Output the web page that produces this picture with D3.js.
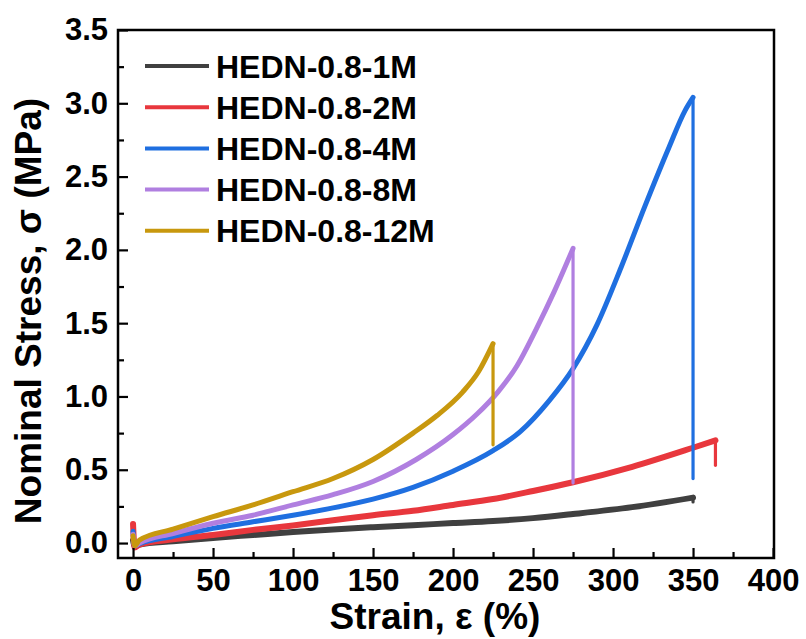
<!DOCTYPE html>
<html>
<head>
<meta charset="utf-8">
<script src="https://cdn.jsdelivr.net/npm/d3@7"></script>
<style>
  body { margin: 0; background: #fff; }
  text { font-family: "Liberation Sans", Arial, sans-serif; font-weight: bold; }
</style>
</head>
<body>
<svg id="chart" width="806" height="639"></svg>
<script>
// ---- data (strain %, stress MPa) ----
const seriesNames = ["HEDN-0.8-1M", "HEDN-0.8-2M", "HEDN-0.8-4M", "HEDN-0.8-8M", "HEDN-0.8-12M"];
const seriesColors = ["#404040", "#e8373d", "#1f6fe0", "#b07fe0", "#c8980e"];

const rise1M = [[0,0.02],[1,-0.02],[4,-0.01],[25,0.012],[50,0.035],[75,0.055],[100,0.075],[125,0.093],[150,0.108],[175,0.122],[200,0.136],[225,0.15],[250,0.17],[275,0.198],[312,0.245],[350,0.31]];
const drop1M = [[350,0.31],[350,0.28]];

const rise2M = [[0,0.13],[1,-0.03],[4,-0.01],[25,0.025],[50,0.055],[75,0.09],[100,0.12],[125,0.155],[150,0.19],[175,0.22],[200,0.26],[225,0.30],[250,0.355],[275,0.415],[312,0.52],[350,0.65],[364,0.70]];
const drop2M = [[364,0.70],[364,0.53]];

const rise4M = [[0,0.08],[1,-0.02],[4,-0.005],[25,0.045],[50,0.10],[75,0.145],[100,0.19],[125,0.24],[150,0.30],[175,0.38],[200,0.49],[225,0.63],[242,0.76],[260,0.97],[275,1.19],[290,1.49],[305,1.88],[320,2.30],[335,2.70],[345,2.95],[350,3.04]];
const drop4M = [[350,3.04],[350,0.44]];

const rise8M = [[0,0.06],[1,-0.02],[4,0.0],[25,0.065],[50,0.135],[75,0.19],[100,0.26],[125,0.33],[150,0.42],[177,0.57],[200,0.74],[215,0.88],[228,1.03],[240,1.21],[252,1.46],[263,1.71],[275,2.01]];
const drop8M = [[275,2.01],[275,0.41]];

const rise12M = [[0,0.05],[1,-0.02],[4,0.02],[25,0.095],[50,0.18],[75,0.26],[100,0.35],[125,0.44],[150,0.57],[175,0.75],[190,0.87],[206,1.03],[216,1.17],[225,1.36]];
const drop12M = [[225,1.36],[225,0.67]];

const rises = [rise1M, rise2M, rise4M, rise8M, rise12M];
const drops = [drop1M, drop2M, drop4M, drop8M, drop12M];

const xTicks = [0, 50, 100, 150, 200, 250, 300, 350, 400];
const xMinor = [25, 75, 125, 175, 225, 275, 325, 375];
const yTicks = [0.0, 0.5, 1.0, 1.5, 2.0, 2.5, 3.0, 3.5];
const yMinor = [0.25, 0.75, 1.25, 1.75, 2.25, 2.75, 3.25];

const xTitle = "Strain, ε (%)";
const yTitle = "Nominal Stress, σ (MPa)";

// ---- layout ----
const svg = d3.select("#chart");
const pL = 118, pR = 774, pT = 30, pB = 558;
const x = d3.scaleLinear().domain([-9.4, 400.6]).range([pL, pR]);
const y = d3.scaleLinear().domain([-0.102, 3.5]).range([pB, pT]);

svg.append("clipPath").attr("id", "clip")
  .append("rect").attr("x", pL).attr("y", pT).attr("width", pR-pL).attr("height", pB-pT);
const plot = svg.append("g");

const curveLine = d3.line().x(d => x(d[0])).y(d => y(d[1])).curve(d3.curveMonotoneX);
const straight = d3.line().x(d => x(d[0])).y(d => y(d[1]));

const widths = [6, 6, 5, 5, 5];
[0, 1, 2, 3, 4].forEach(i => {
  const g = plot.append("g").attr("clip-path", "url(#clip)");
  g.append("path").attr("d", curveLine(rises[i])).attr("fill", "none")
    .attr("stroke", seriesColors[i]).attr("stroke-width", widths[i]).attr("stroke-linejoin", "round").attr("stroke-linecap", "round");
  g.append("path").attr("d", straight(drops[i])).attr("fill", "none")
    .attr("stroke", seriesColors[i]).attr("stroke-width", 3.2).attr("stroke-linecap", "round");
});

// ---- axes (ticks inward) ----
const xAxis = svg.append("g").attr("transform", `translate(0,${pB})`)
  .call(d3.axisBottom(x).tickValues(xTicks).tickSizeInner(-10).tickSizeOuter(0).tickPadding(11).tickFormat(d3.format("d")));
const xAxisMinor = svg.append("g").attr("transform", `translate(0,${pB})`)
  .call(d3.axisBottom(x).tickValues(xMinor).tickSizeInner(-6).tickSizeOuter(0).tickFormat(""));
const yAxis = svg.append("g").attr("transform", `translate(${pL},0)`)
  .call(d3.axisLeft(y).tickValues(yTicks).tickSizeInner(-10).tickSizeOuter(0).tickPadding(10).tickFormat(d3.format(".1f")));
const yAxisMinor = svg.append("g").attr("transform", `translate(${pL},0)`)
  .call(d3.axisLeft(y).tickValues(yMinor).tickSizeInner(-6).tickSizeOuter(0).tickFormat(""));

[xAxis, xAxisMinor, yAxis, yAxisMinor].forEach(a => {
  a.select(".domain").remove();
  a.selectAll("line").attr("stroke", "#000").attr("stroke-width", 2.2);
  a.selectAll("text").attr("font-size", 31).attr("fill", "#000")
    .style("font-family", '"Liberation Sans", Arial, sans-serif').style("font-weight", "bold");
});

// frame
svg.append("rect").attr("x", pL).attr("y", pT).attr("width", pR-pL).attr("height", pB-pT)
  .attr("fill", "none").attr("stroke", "#000").attr("stroke-width", 2.5);

// titles
svg.append("text").attr("x", 435).attr("y", 629).attr("text-anchor", "middle")
  .attr("font-size", 37).text(xTitle);
svg.append("text").attr("transform", `translate(41,311) rotate(-90)`).attr("text-anchor", "middle")
  .attr("font-size", 37).text(yTitle);

// legend
const leg = svg.append("g");
seriesNames.forEach((n, i) => {
  const yy = 66 + i * 41.2;
  leg.append("line").attr("x1", 145).attr("x2", 209).attr("y1", yy).attr("y2", yy)
    .attr("stroke", seriesColors[i]).attr("stroke-width", 4);
  leg.append("text").attr("x", 216).attr("y", yy).attr("dy", "0.36em")
    .attr("font-size", 32).attr("fill", "#000").text(n);
});
</script>
</body>
</html>
